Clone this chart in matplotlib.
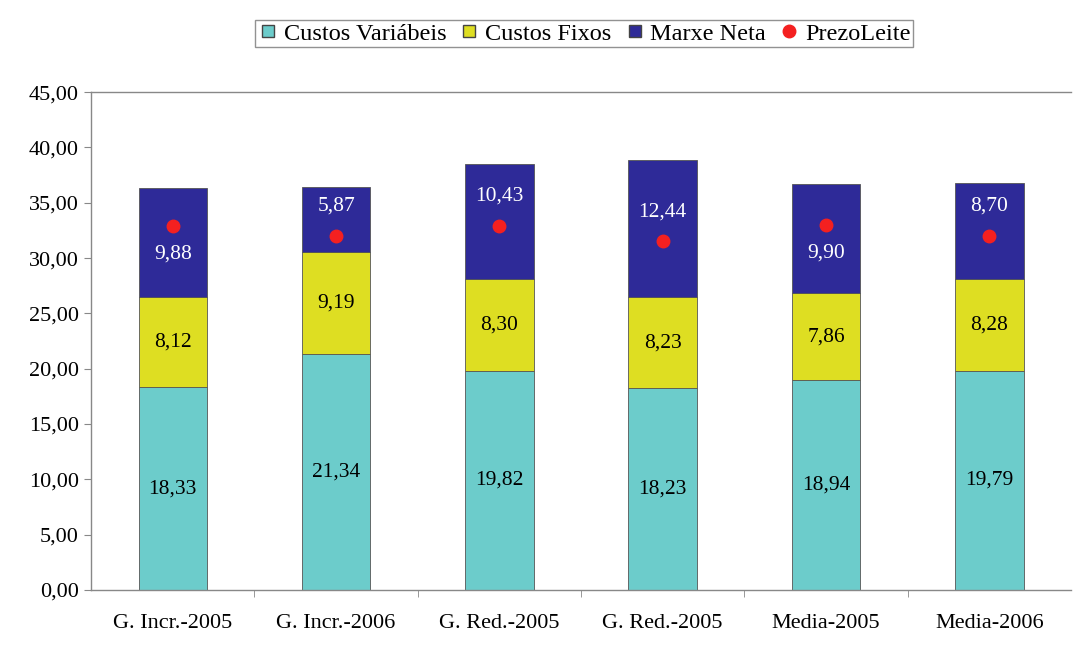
import numpy as np
import matplotlib
matplotlib.use("Agg")
import matplotlib.pyplot as plt
from matplotlib.lines import Line2D

categorias = ["G. Incr.-2005", "G. Incr.-2006", "G. Red.-2005",
              "G. Red.-2005", "Media-2005", "Media-2006"]
custos_variabeis = [18.33, 21.34, 19.82, 18.23, 18.94, 19.79]
custos_fixos = [8.12, 9.19, 8.30, 8.23, 7.86, 8.28]
marxe_neta = [9.88, 5.87, 10.43, 12.44, 9.90, 8.70]
prezo_leite = [32.9, 32.0, 32.9, 31.5, 33.0, 32.0]

c_var = "#6ccccb"
c_fix = "#dede22"
c_mar = "#2e2a98"
c_pre = "#f42020"

plt.rcParams["font.family"] = ["Liberation Serif", "DejaVu Serif"]

def fmt(v):
    return f"{v:.2f}".replace(".", ",")

fig = plt.figure(figsize=(10.73, 6.49), dpi=100)
ax = fig.add_axes([0.085, 0.091, 0.913, 0.767])

x = np.arange(len(categorias))
w = 0.42
var = np.array(custos_variabeis)
fix = np.array(custos_fixos)
mar = np.array(marxe_neta)
pre = np.array(prezo_leite)

ax.bar(x, var, w, color=c_var, edgecolor="#555555", linewidth=0.6)
ax.bar(x, fix, w, bottom=var, color=c_fix, edgecolor="#555555", linewidth=0.6)
ax.bar(x, mar, w, bottom=var + fix, color=c_mar, edgecolor="#555555", linewidth=0.6)
ax.plot(x, pre, "o", color=c_pre, markersize=9, linestyle="none")

for i in range(len(x)):
    ax.text(x[i], var[i] / 2, fmt(var[i]), ha="center", va="center",
            fontsize=15.5, color="black")
    ax.text(x[i], var[i] + fix[i] / 2, fmt(fix[i]), ha="center", va="center",
            fontsize=15.5, color="black")
    # etiqueta da marxe: por riba ou por baixo do punto do prezo
    mid = var[i] + fix[i] + mar[i] / 2
    ly = pre[i] - 2.5 if pre[i] > mid else pre[i] + 2.7
    ax.text(x[i], ly, fmt(mar[i]), ha="center", va="center",
            fontsize=15.5, color="white")

ax.set_xlim(-0.5, len(x) - 0.5)
ax.set_ylim(0, 45)
ax.set_yticks(np.arange(0, 46, 5))
ax.set_yticklabels([fmt(v) for v in np.arange(0, 46, 5)], fontsize=16)
ax.set_xticks(x)
ax.set_xticklabels(categorias, fontsize=16)
ax.set_xticks(np.arange(0.5, len(x) - 0.5, 1), minor=True)
ax.tick_params(axis="x", which="major", length=0, pad=17)
ax.tick_params(axis="x", which="minor", length=5, color="#888888")
ax.tick_params(axis="y", length=5, color="#888888", pad=4)

for s in ["left", "bottom", "top"]:
    ax.spines[s].set_color("#888888")
    ax.spines[s].set_linewidth(1.0)
ax.spines["right"].set_visible(False)

handles = [
    Line2D([], [], marker="s", linestyle="none", markerfacecolor=c_var,
           markeredgecolor="#444444", markersize=8, label="Custos Variábeis"),
    Line2D([], [], marker="s", linestyle="none", markerfacecolor=c_fix,
           markeredgecolor="#444444", markersize=8, label="Custos Fixos"),
    Line2D([], [], marker="s", linestyle="none", markerfacecolor=c_mar,
           markeredgecolor="#444444", markersize=8, label="Marxe Neta"),
    Line2D([], [], marker="o", linestyle="none", color=c_pre,
           markersize=9, label="PrezoLeite"),
]
leg = fig.legend(handles=handles, loc="center", bbox_to_anchor=(0.544, 0.948),
                 ncol=4, fontsize=17.5, frameon=True, fancybox=False,
                 handletextpad=0.2, columnspacing=0.5, borderpad=0.1,
                 handlelength=0.9)
leg.get_frame().set_edgecolor("#777777")
leg.get_frame().set_linewidth(1.0)

fig.savefig("out.png", dpi=100)
